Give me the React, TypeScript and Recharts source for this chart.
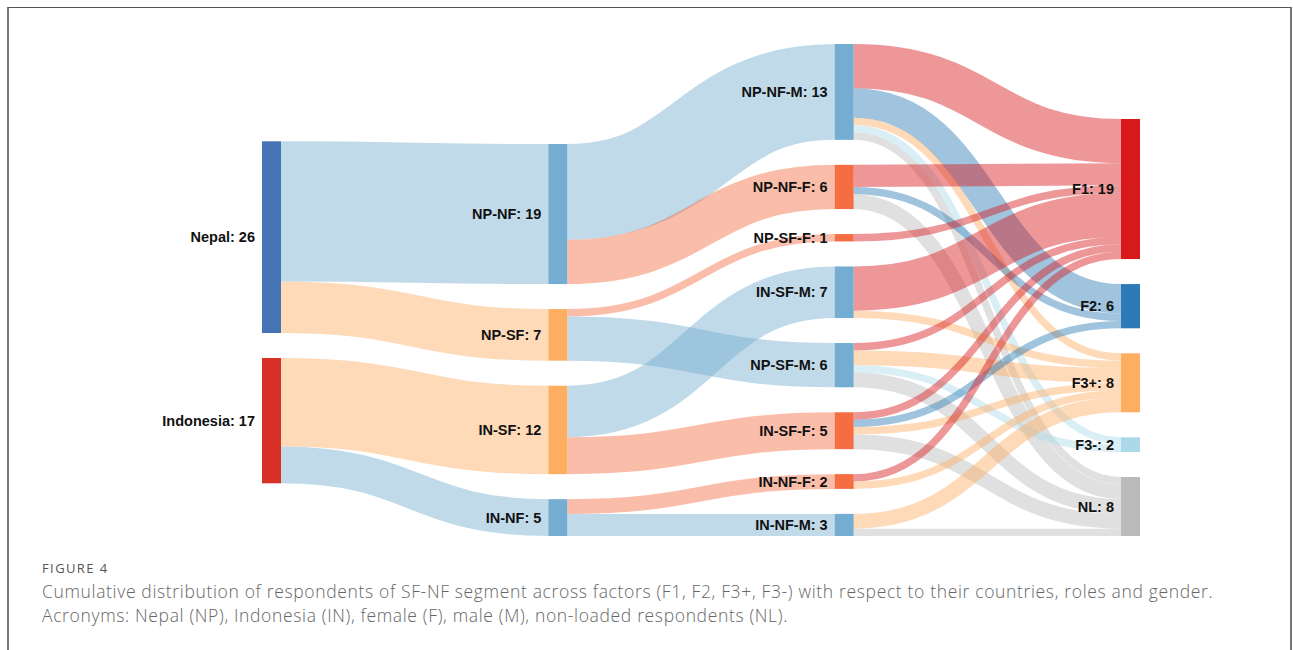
import { Sankey } from 'recharts';

const nodeNames = [
  'Nepal', 'Indonesia',
  'NP-NF', 'NP-SF', 'IN-SF', 'IN-NF',
  'NP-NF-M', 'NP-NF-F', 'NP-SF-F', 'IN-SF-M', 'NP-SF-M', 'IN-SF-F', 'IN-NF-F', 'IN-NF-M',
  'F1', 'F2', 'F3+', 'F3-', 'NL',
];

const nodeColors = [
  '#4575b4', '#d73027',
  '#74add1', '#fdae61', '#fdae61', '#74add1',
  '#74add1', '#f46d43', '#f46d43', '#74add1', '#74add1', '#f46d43', '#f46d43', '#74add1',
  '#d7191c', '#2c7bb6', '#fdae61', '#abd9e9', '#bababa',
];

// [source, target, respondents]
const flows: [string, string, number][] = [
  ['Nepal', 'NP-NF', 19],
  ['Nepal', 'NP-SF', 7],
  ['Indonesia', 'IN-SF', 12],
  ['Indonesia', 'IN-NF', 5],
  ['NP-NF', 'NP-NF-M', 13],
  ['NP-NF', 'NP-NF-F', 6],
  ['NP-SF', 'NP-SF-F', 1],
  ['NP-SF', 'NP-SF-M', 6],
  ['IN-SF', 'IN-SF-M', 7],
  ['IN-SF', 'IN-SF-F', 5],
  ['IN-NF', 'IN-NF-F', 2],
  ['IN-NF', 'IN-NF-M', 3],
  ['NP-NF-M', 'F1', 6],
  ['NP-NF-M', 'F2', 4],
  ['NP-NF-M', 'F3+', 1],
  ['NP-NF-M', 'F3-', 1],
  ['NP-NF-M', 'NL', 1],
  ['NP-NF-F', 'F1', 3],
  ['NP-NF-F', 'F2', 1],
  ['NP-NF-F', 'NL', 2],
  ['NP-SF-F', 'F1', 1],
  ['IN-SF-M', 'F1', 6],
  ['IN-SF-M', 'F3+', 1],
  ['NP-SF-M', 'F1', 1],
  ['NP-SF-M', 'F3+', 2],
  ['NP-SF-M', 'F3-', 1],
  ['NP-SF-M', 'NL', 2],
  ['IN-SF-F', 'F1', 1],
  ['IN-SF-F', 'F2', 1],
  ['IN-SF-F', 'F3+', 1],
  ['IN-SF-F', 'NL', 2],
  ['IN-NF-F', 'F1', 1],
  ['IN-NF-F', 'F3+', 1],
  ['IN-NF-M', 'F3+', 2],
  ['IN-NF-M', 'NL', 1],
];

const captionLines = [
  'Cumulative distribution of respondents of SF-NF segment across factors (F1, F2, F3+, F3-) with respect to their countries, roles and gender.',
  'Acronyms: Nepal (NP), Indonesia (IN), female (F), male (M), non-loaded respondents (NL).',
];

const data = {
  nodes: nodeNames.map((name, i) => ({ name, color: nodeColors[i] })),
  links: flows.map(([s, t, value]) => ({
    source: nodeNames.indexOf(s),
    target: nodeNames.indexOf(t),
    value,
  })),
};

const labelFont = '"Liberation Sans", Arial, sans-serif';

function SankeyNode(props: any) {
  const { x, y, width, height, payload } = props;
  return (
    <g>
      <rect x={x} y={y} width={width} height={height} fill={payload.color} />
      <text
        x={x - 7}
        y={y + height / 2}
        textAnchor="end"
        dominantBaseline="central"
        fontFamily={labelFont}
        fontWeight="bold"
        fontSize={14.5}
        fill="#111"
      >
        {`${payload.name}: ${payload.value}`}
      </text>
    </g>
  );
}

function SankeyLink(props: any) {
  const { sourceX, targetX, sourceY, targetY, sourceControlX, targetControlX, linkWidth, payload } = props;
  return (
    <path
      d={`M${sourceX},${sourceY} C${sourceControlX},${sourceY} ${targetControlX},${targetY} ${targetX},${targetY}`}
      fill="none"
      stroke={payload.target.color}
      strokeOpacity={0.45}
      strokeWidth={linkWidth}
    />
  );
}

export default function App() {
  return (
    <div style={{ position: 'absolute', left: 0, top: 0, width: 1293, height: 650, overflow: 'hidden', background: '#fff' }}>
      <div style={{ position: 'absolute', left: 0, top: 0 }}>
        <Sankey
          width={1293}
          height={650}
          data={data}
          node={SankeyNode}
          link={SankeyLink}
          nodeWidth={19}
          nodePadding={25}
          iterations={1}
          sort={false}
          margin={{ left: 262, right: 153, top: 44, bottom: 114 }}
        />
      </div>
      <div
        style={{
          position: 'absolute',
          left: 7,
          top: 7,
          width: 1285,
          height: 700,
          boxSizing: 'border-box',
          borderTop: '1.5px solid #555',
          borderLeft: '2px solid #777',
          borderRight: '2px solid #777',
          pointerEvents: 'none',
        }}
      />
      <div
        style={{
          position: 'absolute',
          left: 42,
          top: 560,
          fontFamily: '"Open Sans", sans-serif',
          fontSize: 13,
          lineHeight: '16px',
          color: '#555',
          letterSpacing: 1.4,
        }}
      >
        FIGURE 4
      </div>
      {captionLines.map((line, i) => (
        <div
          key={i}
          style={{
            position: 'absolute',
            left: 42,
            top: 580 + i * 24,
            fontFamily: '"Open Sans", sans-serif',
            fontSize: 17.5,
            lineHeight: '22px',
            letterSpacing: 0.65,
            color: '#666',
            fontWeight: 300,
            whiteSpace: 'nowrap',
          }}
        >
          {line}
        </div>
      ))}
    </div>
  );
}
